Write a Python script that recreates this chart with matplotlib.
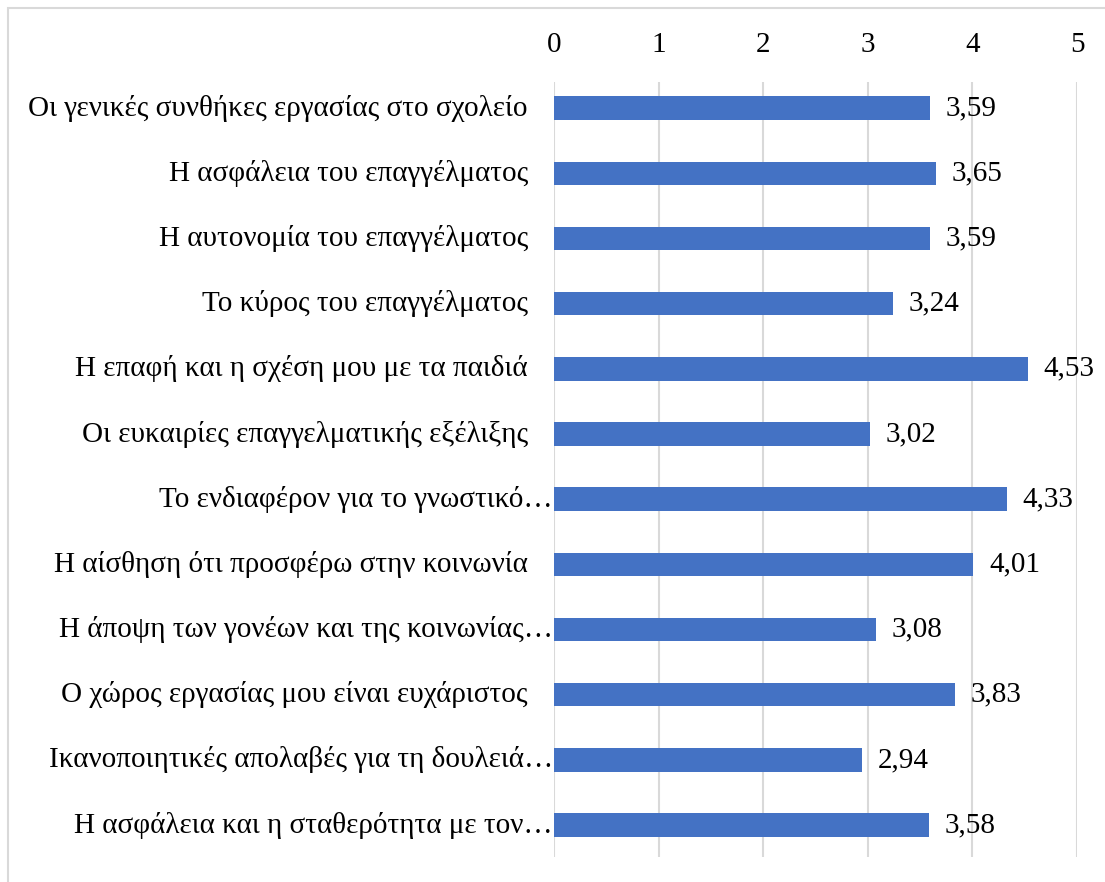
import matplotlib.pyplot as plt
from matplotlib.patches import Rectangle

# Categories top to bottom and mean scores
labels = [
    "Οι γενικές συνθήκες εργασίας στο σχολείο",
    "Η ασφάλεια του επαγγέλματος",
    "Η αυτονομία του επαγγέλματος",
    "Το κύρος του επαγγέλματος",
    "Η επαφή και η σχέση μου με τα παιδιά",
    "Οι ευκαιρίες επαγγελματικής εξέλιξης",
    "Το ενδιαφέρον για το γνωστικό…",
    "Η αίσθηση ότι προσφέρω στην κοινωνία",
    "Η άποψη των γονέων και της κοινωνίας…",
    "Ο χώρος εργασίας μου είναι ευχάριστος",
    "Ικανοποιητικές απολαβές για τη δουλειά…",
    "Η ασφάλεια και η σταθερότητα με τον…",
]
values = [3.59, 3.65, 3.59, 3.24, 4.53, 3.02, 4.33, 4.01, 3.08, 3.83, 2.94, 3.58]
xticks = [0, 1, 2, 3, 4, 5]

plt.rcParams['font.family'] = ['Liberation Serif', 'DejaVu Serif']
FS = 21

fig = plt.figure(figsize=(11.05, 8.82), dpi=100)
ax = fig.add_axes([0.5014, 0.0283, 0.4733, 0.8787])

# light frame round the chart area
fig.patches.append(Rectangle((8 / 1105, -0.01), 1.2, 1 - 8 / 882 + 0.01,
                             transform=fig.transFigure, fill=False,
                             edgecolor='#d9d9d9', linewidth=1.5))

y = list(range(len(labels)))
ax.barh(y, values, height=0.36, color='#4472C4', zorder=3)

for yi, v in zip(y, values):
    ax.text(v + 0.15, yi, f"{v:.2f}".replace('.', ','), va='center', ha='left',
            fontsize=FS, color='#000000')

# category labels; cut-off ones sit flush against the axis
for yi, lab in zip(y, labels):
    xpos = -0.01 if lab.endswith('…') else -0.25
    ax.text(xpos, yi, lab, va='center', ha='right', fontsize=FS, color='#000000')

ax.set_xlim(0, 5)
ax.set_ylim(len(labels) - 0.51, -0.40)
ax.set_xticks(xticks)
ax.set_xticklabels([str(t) for t in xticks])
ax.xaxis.tick_top()
ax.tick_params(axis='x', length=0, pad=17, labelsize=FS)
ax.set_yticks([])
ax.grid(axis='x', color='#d9d9d9', linewidth=1.5, zorder=0)
for s in ax.spines.values():
    s.set_visible(False)

fig.savefig('out.png', dpi=100)
